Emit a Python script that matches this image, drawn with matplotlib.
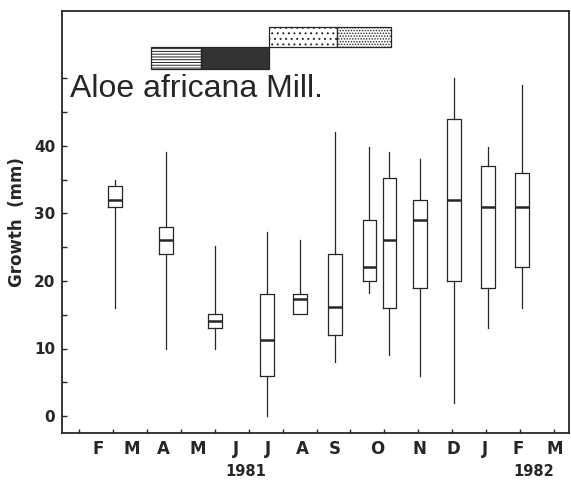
import matplotlib.pyplot as plt
import matplotlib.transforms as mtransforms

# sampling dates on the month axis (0 = first tick)
sample_x = [1.06, 2.56, 4.01, 5.53, 6.52, 7.54, 8.56, 9.15, 10.05, 11.05, 12.05, 13.05]
whis_lo = [16, 10, 10, 0, 15.1, 8, 18.2, 9, 6, 2, 13, 16]
q1 = [31, 24, 13, 6, 15.1, 12, 20, 16, 19, 20, 19, 22]
med = [32, 26, 14.1, 11.2, 17.3, 16.2, 22, 26, 29, 32, 31, 31]
q3 = [34, 28, 15.1, 18, 18.1, 24, 29, 35.2, 32, 44, 37, 36]
whis_hi = [35, 39, 25.1, 27.2, 26, 42, 39.8, 39, 38, 50, 39.8, 49]

months = ['F', 'M', 'A', 'M', 'J', 'J', 'A', 'S', 'O', 'N', 'D', 'J', 'F', 'M']
month_x = [0.56, 1.56, 2.5, 3.5, 4.63, 5.57, 6.57, 7.55, 8.78, 10.02, 11.02, 11.97, 12.94, 14.03]
years = ['1981', '1982']
year_x = [4.91, 13.40]

# season bars above the plot: (start, end) in month units
lower_bars = [(2.11, 3.60), (3.60, 5.61)]
upper_bars = [(5.61, 7.59), (7.59, 9.19)]

ink = '#262626'

fig = plt.figure(figsize=(5.71, 4.82), dpi=100)
ax = fig.add_axes([62 / 571, 49 / 482, 507 / 571, 422.5 / 482])

stats = []
for i in range(len(sample_x)):
    stats.append({'whislo': whis_lo[i], 'q1': q1[i], 'med': med[i],
                  'q3': q3[i], 'whishi': whis_hi[i], 'fliers': []})

ax.bxp(stats, positions=sample_x, widths=0.41, showcaps=False, showfliers=False,
       boxprops=dict(color=ink, linewidth=0.9),
       whiskerprops=dict(color=ink, linewidth=0.9),
       medianprops=dict(color=ink, linewidth=1.8))

ax.set_xlim(-0.5, 14.44)
ax.set_ylim(-2.5, 60)

# season bars
plt.rcParams['hatch.linewidth'] = 0.7
plt.rcParams['hatch.color'] = ink
ax.add_patch(plt.Rectangle((lower_bars[0][0], 51.3), lower_bars[0][1] - lower_bars[0][0], 3.35,
                           facecolor='white', edgecolor=ink, hatch='------', linewidth=0.9))
ax.add_patch(plt.Rectangle((lower_bars[1][0], 51.3), lower_bars[1][1] - lower_bars[1][0], 3.35,
                           facecolor='#333333', edgecolor=ink, linewidth=0.9))
ax.add_patch(plt.Rectangle((upper_bars[0][0], 54.55), upper_bars[0][1] - upper_bars[0][0], 3.05,
                           facecolor='white', edgecolor=ink, hatch='...', linewidth=0.9))
ax.add_patch(plt.Rectangle((upper_bars[1][0], 54.55), upper_bars[1][1] - upper_bars[1][0], 3.05,
                           facecolor='white', edgecolor=ink, hatch='......', linewidth=0.9))

ax.text(0.016, 0.795, 'Aloe africana Mill.', transform=ax.transAxes, fontsize=23,
        family='Liberation Sans', color=ink, va='baseline', ha='left')

# axes styling
for side in ax.spines:
    ax.spines[side].set_linewidth(1.3)
    ax.spines[side].set_color(ink)

ax.set_xticks(range(15))
ax.set_xticklabels([])
ax.tick_params(axis='x', direction='in', length=3, width=1, color=ink)

ax.set_yticks([0, 10, 20, 30, 40, 50])
ax.set_yticklabels(['0', '10', '20', '30', '40', ''])
ax.set_yticks([5, 15, 25, 35, 45], minor=True)
ax.tick_params(axis='y', which='both', direction='in', length=3.5, width=1, color=ink, pad=4.8,
               labelsize=11, labelcolor=ink)
for lab in ax.get_yticklabels():
    lab.set_fontweight('bold')

ax.set_ylabel('Growth  (mm)', fontsize=12, fontweight='bold', color=ink, labelpad=6)

trans = mtransforms.blended_transform_factory(ax.transData, ax.transAxes)
for m, x in zip(months, month_x):
    ax.text(x, -0.038, m, transform=trans, ha='center', va='center',
            fontsize=12, fontweight='bold', color=ink)
for y, x in zip(years, year_x):
    ax.text(x, -0.092, y, transform=trans, ha='center', va='center',
            fontsize=10.5, fontweight='bold', color=ink)

fig.savefig('out.png', dpi=100)
